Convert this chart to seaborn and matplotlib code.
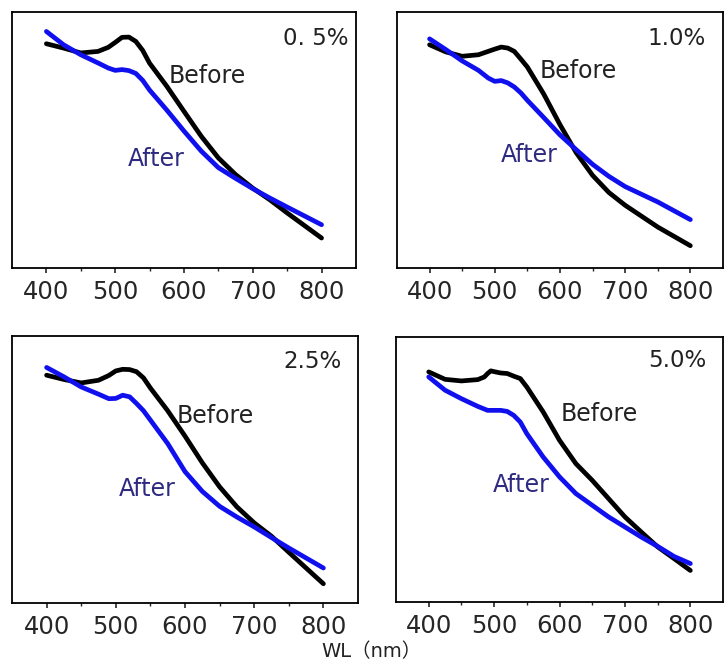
import pandas as pd
import seaborn as sns
import matplotlib.pyplot as plt


#1. Data (absorbance, a.u.)
wl_before_05 = [400, 425, 450, 475, 490, 500, 510, 520, 530, 540, 550, 575, 600, 625, 650, 675, 700, 725, 750, 800]
before_05 = [0.876, 0.859, 0.840, 0.846, 0.862, 0.881, 0.901, 0.902, 0.885, 0.850, 0.800, 0.710, 0.612, 0.515, 0.430, 0.365, 0.312, 0.266, 0.215, 0.117]
wl_after_05 = [400, 425, 450, 475, 490, 500, 510, 520, 530, 540, 550, 575, 600, 625, 650, 675, 700, 725, 750, 800]
after_05 = [0.924, 0.872, 0.833, 0.801, 0.781, 0.772, 0.775, 0.771, 0.760, 0.733, 0.695, 0.617, 0.535, 0.457, 0.392, 0.350, 0.310, 0.273, 0.238, 0.169]

wl_before_10 = [400, 425, 450, 475, 500, 510, 520, 530, 540, 550, 575, 600, 625, 650, 675, 700, 750, 800]
before_10 = [0.872, 0.844, 0.827, 0.833, 0.855, 0.863, 0.859, 0.846, 0.816, 0.785, 0.680, 0.560, 0.450, 0.362, 0.295, 0.245, 0.160, 0.087]
wl_after_10 = [400, 425, 450, 475, 490, 500, 510, 520, 530, 540, 550, 575, 600, 625, 650, 675, 700, 750, 800]
after_10 = [0.895, 0.853, 0.809, 0.772, 0.742, 0.729, 0.732, 0.723, 0.707, 0.684, 0.655, 0.588, 0.520, 0.462, 0.405, 0.358, 0.318, 0.258, 0.189]

wl_before_25 = [400, 425, 450, 475, 490, 500, 510, 520, 530, 540, 550, 575, 600, 625, 650, 675, 700, 725, 750, 800]
before_25 = [0.853, 0.837, 0.824, 0.834, 0.852, 0.869, 0.875, 0.874, 0.866, 0.843, 0.805, 0.720, 0.625, 0.525, 0.435, 0.360, 0.300, 0.250, 0.190, 0.072]
wl_after_25 = [400, 425, 450, 475, 490, 500, 510, 520, 530, 540, 550, 575, 600, 625, 650, 675, 700, 725, 750, 800]
after_25 = [0.882, 0.847, 0.809, 0.782, 0.765, 0.766, 0.778, 0.772, 0.747, 0.720, 0.685, 0.597, 0.492, 0.418, 0.362, 0.322, 0.285, 0.245, 0.206, 0.131]

wl_before_50 = [400, 425, 450, 475, 485, 490, 495, 500, 510, 520, 530, 540, 550, 575, 600, 625, 650, 675, 700, 725, 750, 775, 800]
before_50 = [0.868, 0.840, 0.834, 0.839, 0.849, 0.862, 0.872, 0.869, 0.864, 0.862, 0.852, 0.843, 0.811, 0.717, 0.610, 0.522, 0.459, 0.390, 0.321, 0.264, 0.208, 0.164, 0.119]
wl_after_50 = [400, 425, 450, 475, 490, 500, 510, 520, 530, 540, 550, 575, 600, 625, 650, 675, 700, 725, 750, 775, 800]
after_50 = [0.849, 0.799, 0.767, 0.738, 0.723, 0.723, 0.723, 0.719, 0.704, 0.679, 0.635, 0.547, 0.472, 0.409, 0.365, 0.321, 0.283, 0.245, 0.210, 0.172, 0.145]

panel_labels = ['0. 5%', '1.0%', '2.5%', '5.0%']
x_ticks = [400, 500, 600, 700, 800]


#2. Plotting
sns.set_style("ticks")
plt.rcParams['font.family'] = ['DejaVu Sans', 'Noto Sans CJK SC']

fig = plt.figure(figsize=(7.26, 6.66), dpi=100)
boxes = [[0.0165, 0.5976, 0.4738, 0.3844],
         [0.5468, 0.5976, 0.4490, 0.3844],
         [0.0165, 0.0946, 0.4766, 0.4010],
         [0.5455, 0.0961, 0.4504, 0.3980]]
panels = [(wl_before_05, before_05, wl_after_05, after_05),
          (wl_before_10, before_10, wl_after_10, after_10),
          (wl_before_25, before_25, wl_after_25, after_25),
          (wl_before_50, before_50, wl_after_50, after_50)]
# text placement: (label x, label y, Before x, Before y, After x, After y)
spots = [(0.977, 0.871, 577, 0.723, 519, 0.398),
         (0.948, 0.871, 569, 0.742, 510, 0.414),
         (0.954, 0.880, 588, 0.674, 505, 0.401),
         (0.948, 0.887, 601, 0.683, 498, 0.415)]

for box, (wb, b, wa, a), label, sp in zip(boxes, panels, panel_labels, spots):
    ax = fig.add_axes(box)
    sns.lineplot(x=wb, y=b, ax=ax, color='black', linewidth=3.4)
    sns.lineplot(x=wa, y=a, ax=ax, color='#1010ee', linewidth=3.4)
    ax.set_xlim(350, 850)
    ax.set_ylim(0, 1)
    ax.set_xticks(x_ticks)
    ax.set_xticks([450, 550, 650, 750], minor=True)
    ax.set_yticks([])
    ax.tick_params(axis='x', which='major', length=3.5, width=1.2, pad=5, labelsize=17.5, direction='out')
    ax.tick_params(axis='x', which='minor', length=2.5, width=1.0, direction='out')
    for s in ax.spines.values():
        s.set_linewidth(1.3)
        s.set_color('black')
    ax.text(sp[0], sp[1], label, transform=ax.transAxes, ha='right', va='baseline', fontsize=16.5, color='#222222')
    ax.text(sp[2], sp[3], 'Before', ha='left', va='baseline', fontsize=17, color='#222222')
    ax.text(sp[4], sp[5], 'After', ha='left', va='baseline', fontsize=17, color='#2e2a80')

fig.text(0.511, 0.0135, 'WL（nm）', ha='center', va='baseline', fontsize=14, color='#222222')

plt.savefig('out.png', dpi=100)
